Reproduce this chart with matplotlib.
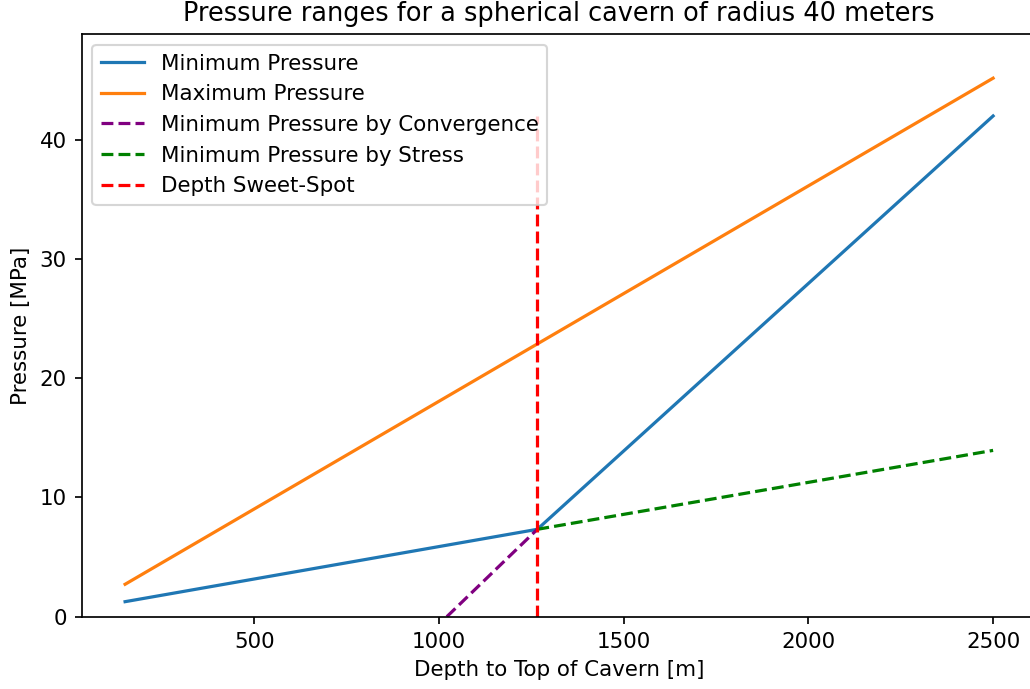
import matplotlib
matplotlib.use("Agg")
import matplotlib.pyplot as plt

# Data
depth_min = [150, 1266, 2500]
p_min = [1.26, 7.33, 42.0]

depth_max = [150, 2500]
p_max = [2.72, 45.17]

depth_conv = [1021, 1266]
p_conv = [0.0, 7.33]

depth_stress = [1266, 2500]
p_stress = [7.33, 13.95]

sweet_spot = 1266
sweet_top = 42.0

W, H, DPI = 1030, 689, 154
fig = plt.figure(figsize=(W / DPI, H / DPI), dpi=DPI)
ax = fig.add_axes([81.7 / W, 1 - 616.7 / H, (1036.5 - 81.7) / W, (616.7 - 34.3) / H])

ax.plot(depth_min, p_min, color="tab:blue", label="Minimum Pressure")
ax.plot(depth_max, p_max, color="tab:orange", label="Maximum Pressure")
ax.plot(depth_conv, p_conv, color="purple", linestyle="--", label="Minimum Pressure by Convergence")
ax.plot(depth_stress, p_stress, color="green", linestyle="--", label="Minimum Pressure by Stress")
ax.vlines(sweet_spot, 0, sweet_top, colors="red", linestyles="--", label="Depth Sweet-Spot")

ax.set_xlim(32.5, 2617.5)
ax.set_ylim(0, 48.85)
ax.set_xticks([500, 1000, 1500, 2000, 2500])
ax.set_yticks([0, 10, 20, 30, 40])

ax.set_title("Pressure ranges for a spherical cavern of radius 40 meters")
ax.set_xlabel("Depth to Top of Cavern [m]")
ax.set_ylabel("Pressure [MPa]")
ax.legend(loc="upper left")

fig.savefig("out.png", dpi=DPI)
